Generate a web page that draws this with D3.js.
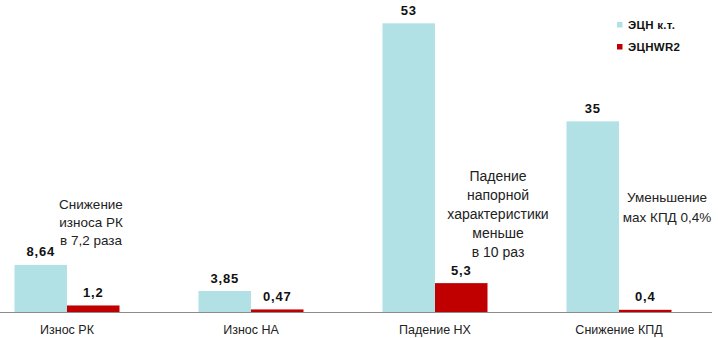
<!DOCTYPE html>
<html><head><meta charset="utf-8">
<script src="https://cdn.jsdelivr.net/npm/d3@7"></script>
<style>
html,body{margin:0;padding:0;background:#fff;}
svg{display:block;}
</style>
</head><body>
<script>
const categories = ["Износ РК", "Износ НА", "Падение НХ", "Снижение КПД"];
const seriesNames = ["ЭЦН к.т.", "ЭЦНWR2"];
const valuesKT = [8.64, 3.85, 53, 35];
const valuesWR2 = [1.2, 0.47, 5.3, 0.4];
const seriesColors = ["#B1E1E4", "#C00000"];
const annotations = [
  {category: "Износ РК", lines: ["Снижение", "износа РК", "в 7,2 раза"]},
  {category: "Падение НХ", lines: ["Падение", "напорной", "характеристики", "меньше", "в 10 раз"]},
  {category: "Снижение КПД", lines: ["Уменьшение", "мах КПД 0,4%"]}
];

const W = 718, H = 338;
const svg = d3.select("body").append("svg").attr("width", W).attr("height", H);

const x0 = d3.scaleBand().domain(categories).range([-25, 711]).padding(0);
const x1 = d3.scaleBand().domain(seriesNames).range([39.5, 144.5]).padding(0);
const y = d3.scaleLinear().domain([0, 53]).range([312, 23.3]);
const color = d3.scaleOrdinal().domain(seriesNames).range(seriesColors);

const rows = categories.map((c, i) => ({
  category: c,
  values: [
    {series: seriesNames[0], value: valuesKT[i]},
    {series: seriesNames[1], value: valuesWR2[i]}
  ]
}));

const fmt = v => String(v).replace(".", ",");

const groups = svg.selectAll("g.grp").data(rows).join("g")
  .attr("class", "grp")
  .attr("transform", d => `translate(${x0(d.category)},0)`);

groups.selectAll("rect").data(d => d.values).join("rect")
  .attr("x", d => x1(d.series))
  .attr("width", x1.bandwidth())
  .attr("y", d => y(d.value))
  .attr("height", d => y(0) - y(d.value))
  .attr("fill", d => color(d.series));

groups.selectAll("text.val").data(d => d.values).join("text")
  .attr("class", "val")
  .attr("x", d => x1(d.series) + x1.bandwidth() / 2)
  .attr("y", d => y(d.value) - 8.5)
  .attr("text-anchor", "middle")
  .attr("font-family", "Liberation Sans, Arial, sans-serif")
  .attr("font-weight", "bold")
  .attr("font-size", "13px")
  .attr("letter-spacing", "0.8px")
  .attr("fill", "#111")
  .text(d => fmt(d.value));

// axis
const axis = svg.append("g").attr("transform", `translate(0,${y(0)})`)
  .call(d3.axisBottom(x0).tickSize(0).tickSizeOuter(0).tickPadding(13));
axis.select(".domain").attr("stroke", "#8c8c8c").attr("d", "M0,0.5H712");
axis.selectAll("text")
  .attr("font-family", "Liberation Sans, Arial, sans-serif")
  .attr("font-size", "12.5px")
  .attr("fill", "#222");

// annotations
const annOffsets = [24, 63, 48];
const annTop = [208.5, 180.5, 202];
const annStep = [18, 19, 19.5];
const annSize = [13.5, 14, 13.5];
annotations.forEach((a, i) => {
  const cx = x0(a.category) + x0.bandwidth() / 2 + annOffsets[i];
  const t = svg.append("text")
    .attr("text-anchor", "middle")
    .attr("font-family", "Liberation Sans, Arial, sans-serif")
    .attr("font-size", annSize[i] + "px")
    .attr("fill", "#222");
  a.lines.forEach((ln, j) => {
    t.append("tspan").attr("x", cx).attr("y", annTop[i] + j * annStep[i]).text(ln);
  });
});

// legend
const lg = svg.append("g").attr("transform", "translate(617,22)");
seriesNames.forEach((s, i) => {
  lg.append("rect").attr("x", 0).attr("y", i * 22).attr("width", 5.5).attr("height", 5.5).attr("fill", color(s));
  lg.append("text").attr("x", 11).attr("y", i * 22 + 6.5)
    .attr("font-family", "Liberation Sans, Arial, sans-serif")
    .attr("font-weight", "bold")
    .attr("font-size", "11.5px")
    .attr("letter-spacing", "0.3px")
    .attr("fill", "#111")
    .text(s);
});
</script>
</body></html>
